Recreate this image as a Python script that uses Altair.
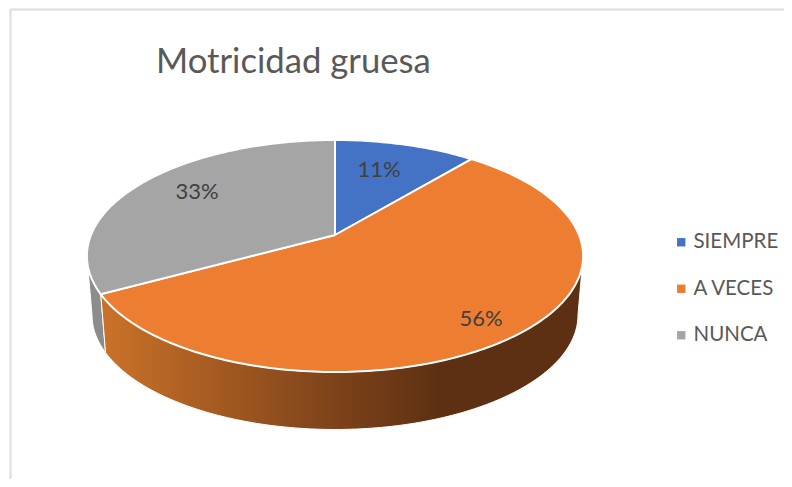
import math
import altair as alt
import pandas as pd

# ---- chart values
categories = ["SIEMPRE", "A VECES", "NUNCA"]
shares = [11, 56, 33]
share_labels = ["11%", "56%", "33%"]
colors = ["#4472C4", "#ED7D31", "#A5A5A5"]
title_text = "Motricidad gruesa"

# ---- page geometry: scale domains are in page pixels
W, H = 776, 471
label_x = [379, 481, 197]
label_y = [170, 319, 192]

# perspective projection of the tilted pie (top rim and bottom rim)
K = 0.181


def top_rim(a):
    X, Y = math.sin(a), math.cos(a)
    d = 1 + K * Y
    return 335 + 244 * X / d, 235 - 112.2 * Y / d


def bottom_rim(a):
    X, Y = math.sin(a), math.cos(a)
    d = 1 + K * Y
    return 335 + 239 * X / d, 294.2 - 110.8 * Y / d


def sweep(a0, a1, step=1.0):
    n = max(2, int(abs(a1 - a0) / step))
    return [math.radians(a0 + (a1 - a0) * i / n) for i in range(n + 1)]


# cumulative angles from the shares
bounds = [0]
for s in shares:
    bounds.append(bounds[-1] + s * 3.6)

top_rows = []
for cat, a0, a1 in zip(categories, bounds[:-1], bounds[1:]):
    pts = [(335, 235)] + [top_rim(a) for a in sweep(a0, a1)] + [(335, 235)]
    for i, (x, y) in enumerate(pts):
        top_rows.append({"cat": cat, "x": x, "y": y, "o": i})
top_df = pd.DataFrame(top_rows)


def wall_df(a0, a1):
    ang = sweep(a0, a1)
    pts = [top_rim(a) for a in ang] + [bottom_rim(a) for a in reversed(ang)]
    pts.append(pts[0])
    return pd.DataFrame([{"x": x, "y": y, "o": i} for i, (x, y) in enumerate(pts)])


TANGENT_R = math.degrees(math.acos(-K))
TANGENT_L = 360 - TANGENT_R

xs = alt.Scale(domain=[8, 8 + W], range=[0, W], nice=False, zero=False)
ys = alt.Scale(domain=[8, 8 + H], range=[0, H], nice=False, zero=False)
X = alt.X("x:Q", scale=xs, axis=None)
Y = alt.Y("y:Q", scale=ys, axis=None)

orange_grad = alt.Gradient(
    gradient="linear", x1=0, x2=1, y1=0, y2=0,
    stops=[
        alt.GradientStop(color="#CB7229", offset=0),
        alt.GradientStop(color="#7E431A", offset=0.48),
        alt.GradientStop(color="#5E3013", offset=0.70),
        alt.GradientStop(color="#5E3013", offset=1),
    ],
)

grey_wall = alt.Chart(wall_df(bounds[2], TANGENT_L)).mark_line(
    fill="#8C8C8C", stroke="#FFFFFF", strokeWidth=1
).encode(x=X, y=Y, order="o:Q")

orange_wall = alt.Chart(wall_df(TANGENT_R, bounds[2])).mark_line(
    fill=orange_grad, stroke="#FFFFFF", strokeWidth=1
).encode(x=X, y=Y, order="o:Q")

top = alt.Chart(top_df).mark_line(stroke="#FFFFFF", strokeWidth=2).encode(
    x=X, y=Y, order="o:Q",
    fill=alt.Fill(
        "cat:N",
        scale=alt.Scale(domain=categories, range=colors),
        legend=alt.Legend(
            title=None, orient="none", legendX=663, legendY=224,
            symbolType="square", symbolSize=70, symbolStrokeWidth=0,
            labelFont="Lato", labelFontSize=20.5, labelColor="#595959",
            labelOffset=2, rowPadding=25.5, labelLimit=200, symbolOffset=0,
        ),
    ),
)

labels = alt.Chart(
    pd.DataFrame({"t": share_labels, "x": label_x, "y": label_y})
).mark_text(font="Lato", fontSize=22, color="#404040", align="center", baseline="middle").encode(
    x=X, y=Y, text="t:N"
)

frame_left = alt.Chart(pd.DataFrame({"a": [0]})).mark_rule(color="#DDDDDD", strokeWidth=2).encode(
    x=alt.value(2.5), y=alt.value(1), y2=alt.value(H)
)
frame_top = alt.Chart(pd.DataFrame({"a": [0]})).mark_rule(color="#DDDDDD", strokeWidth=2).encode(
    y=alt.value(1.5), x=alt.value(2), x2=alt.value(W)
)

chart = alt.layer(frame_left, frame_top, grey_wall, orange_wall, top, labels).properties(
    width=W, height=H, padding=0, autosize=alt.AutoSizeParams(type="none"),
    title=alt.TitleParams(
        title_text, anchor="start", frame="group", dx=148, dy=77,
        font="Lato", fontSize=34.7, fontWeight="normal", color="#595959",
    ),
).configure_view(stroke=None)

chart.save("out.html", embed_options={"renderer": "svg", "actions": False})
